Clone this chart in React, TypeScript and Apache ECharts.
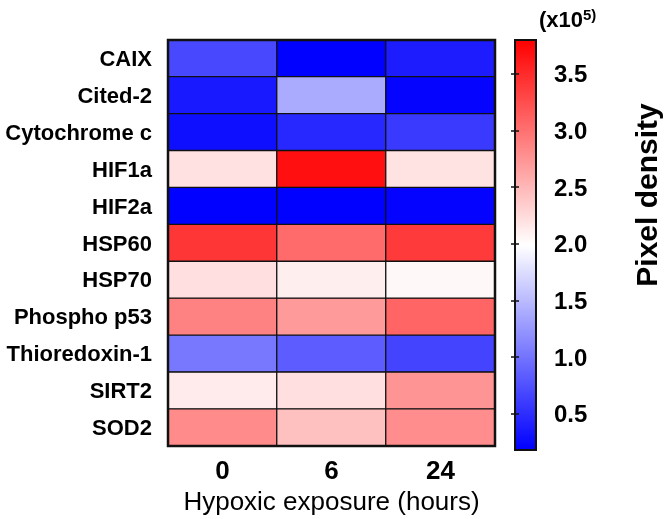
import { useEffect, useRef } from 'react';
import * as echarts from 'echarts';

const genes = ['CAIX', 'Cited-2', 'Cytochrome c', 'HIF1a', 'HIF2a', 'HSP60', 'HSP70', 'Phospho p53', 'Thioredoxin-1', 'SIRT2', 'SOD2'];
const timePoints = ['0', '6', '24'];
const values0h = [0.69, 0.36, 0.29, 2.2, 0.19, 3.42, 2.22, 2.88, 1.03, 2.13, 2.81];
const values6h = [0.19, 1.39, 0.46, 3.69, 0.19, 3.05, 2.11, 2.71, 0.83, 2.22, 2.44];
const values24h = [0.38, 0.21, 0.59, 2.19, 0.2, 3.39, 2.04, 3.08, 0.66, 2.75, 2.8];
const scaleMin = 0.18;
const scaleMax = 3.8;
const colorbarTicks = [0.5, 1.0, 1.5, 2.0, 2.5, 3.0, 3.5];

const FONT = "'Liberation Sans', Arial, Helvetica, sans-serif";

export default function App() {
  const ref = useRef<HTMLDivElement>(null);
  useEffect(() => {
    if (!ref.current) return;
    const chart = echarts.init(ref.current, undefined, { renderer: 'svg' });
    const columns = [values0h, values6h, values24h];
    const data: [number, number, number][] = [];
    columns.forEach((col, xi) => col.forEach((v, yi) => data.push([xi, yi, v])));

    chart.setOption({
      animation: false,
      textStyle: { fontFamily: FONT },
      grid: [
        { left: 168, top: 40, width: 327, height: 411, show: true, borderColor: '#111', borderWidth: 2.5, backgroundColor: 'transparent', z: 10 },
        { left: 515, top: 40, width: 21, height: 410, show: true, borderColor: '#111', borderWidth: 2, backgroundColor: 'transparent', z: 10 },
      ],
      xAxis: [
        {
          gridIndex: 0, type: 'category', data: timePoints,
          axisLine: { show: false }, axisTick: { show: false }, splitLine: { show: false },
          axisLabel: { fontSize: 26, fontWeight: 'bold', color: '#000', margin: 11, fontFamily: FONT },
          name: 'Hypoxic exposure (hours)', nameLocation: 'middle', nameGap: 29,
          nameTextStyle: { fontSize: 26, color: '#000', fontFamily: FONT },
        },
        { gridIndex: 1, type: 'value', show: false, min: 0, max: 1 },
      ],
      yAxis: [
        {
          gridIndex: 0, type: 'category', data: genes, inverse: true,
          axisLine: { show: false }, axisTick: { show: false }, splitLine: { show: false },
          axisLabel: { fontSize: 22, fontWeight: 'bold', color: '#000', margin: 16, fontFamily: FONT },
        },
        {
          gridIndex: 1, type: 'value', min: scaleMin, max: scaleMax, position: 'right', z: 10,
          axisLine: { show: false }, splitLine: { show: false },
          axisTick: { show: true, inside: true, length: 4, lineStyle: { color: '#111', width: 1.5 }, customValues: colorbarTicks },
          axisLabel: {
            customValues: colorbarTicks, formatter: (v: number) => v.toFixed(1),
            fontSize: 24, fontWeight: 'bold', color: '#000', margin: 18, fontFamily: FONT,
          },
        },
        {
          gridIndex: 1, type: 'value', min: scaleMin, max: scaleMax, position: 'left', z: 10,
          axisLine: { show: false }, splitLine: { show: false }, axisLabel: { show: false },
          axisTick: { show: true, inside: true, length: 4, lineStyle: { color: '#111', width: 1.5 }, customValues: colorbarTicks },
        },
      ],
      visualMap: {
        type: 'continuous', min: scaleMin, max: scaleMax, seriesIndex: 0,
        inRange: { color: ['#0000ff', '#ffffff', '#ff0000'] },
        left: 515, top: 40, itemWidth: 21, itemHeight: 410, padding: 0,
        calculable: false, orient: 'vertical', hoverLink: false,
      },
      series: [
        {
          type: 'heatmap', xAxisIndex: 0, yAxisIndex: 0, data,
          itemStyle: { borderColor: '#111', borderWidth: 1.3 },
          emphasis: { disabled: true },
        },
      ],
      graphic: [
        {
          type: 'text', x: 646, y: 195, rotation: Math.PI / 2,
          style: { text: 'Pixel density', fontSize: 30, fontWeight: 'bold', fill: '#000', fontFamily: FONT, align: 'center', verticalAlign: 'middle' },
        },
        {
          type: 'text', x: 539, y: 19,
          style: {
            text: '{a|(x10}{b|5)}', fontFamily: FONT, fill: '#000', verticalAlign: 'middle',
            rich: {
              a: { fontSize: 22, fontWeight: 'bold', fontFamily: FONT, fill: '#000' },
              b: { fontSize: 15, fontWeight: 'bold', fontFamily: FONT, fill: '#000', padding: [0, 0, 10, 0] },
            },
          },
        },
      ],
    });
    return () => chart.dispose();
  }, []);
  return <div ref={ref} style={{ position: 'fixed', left: 0, top: 0, width: 666, height: 519 }} />;
}
